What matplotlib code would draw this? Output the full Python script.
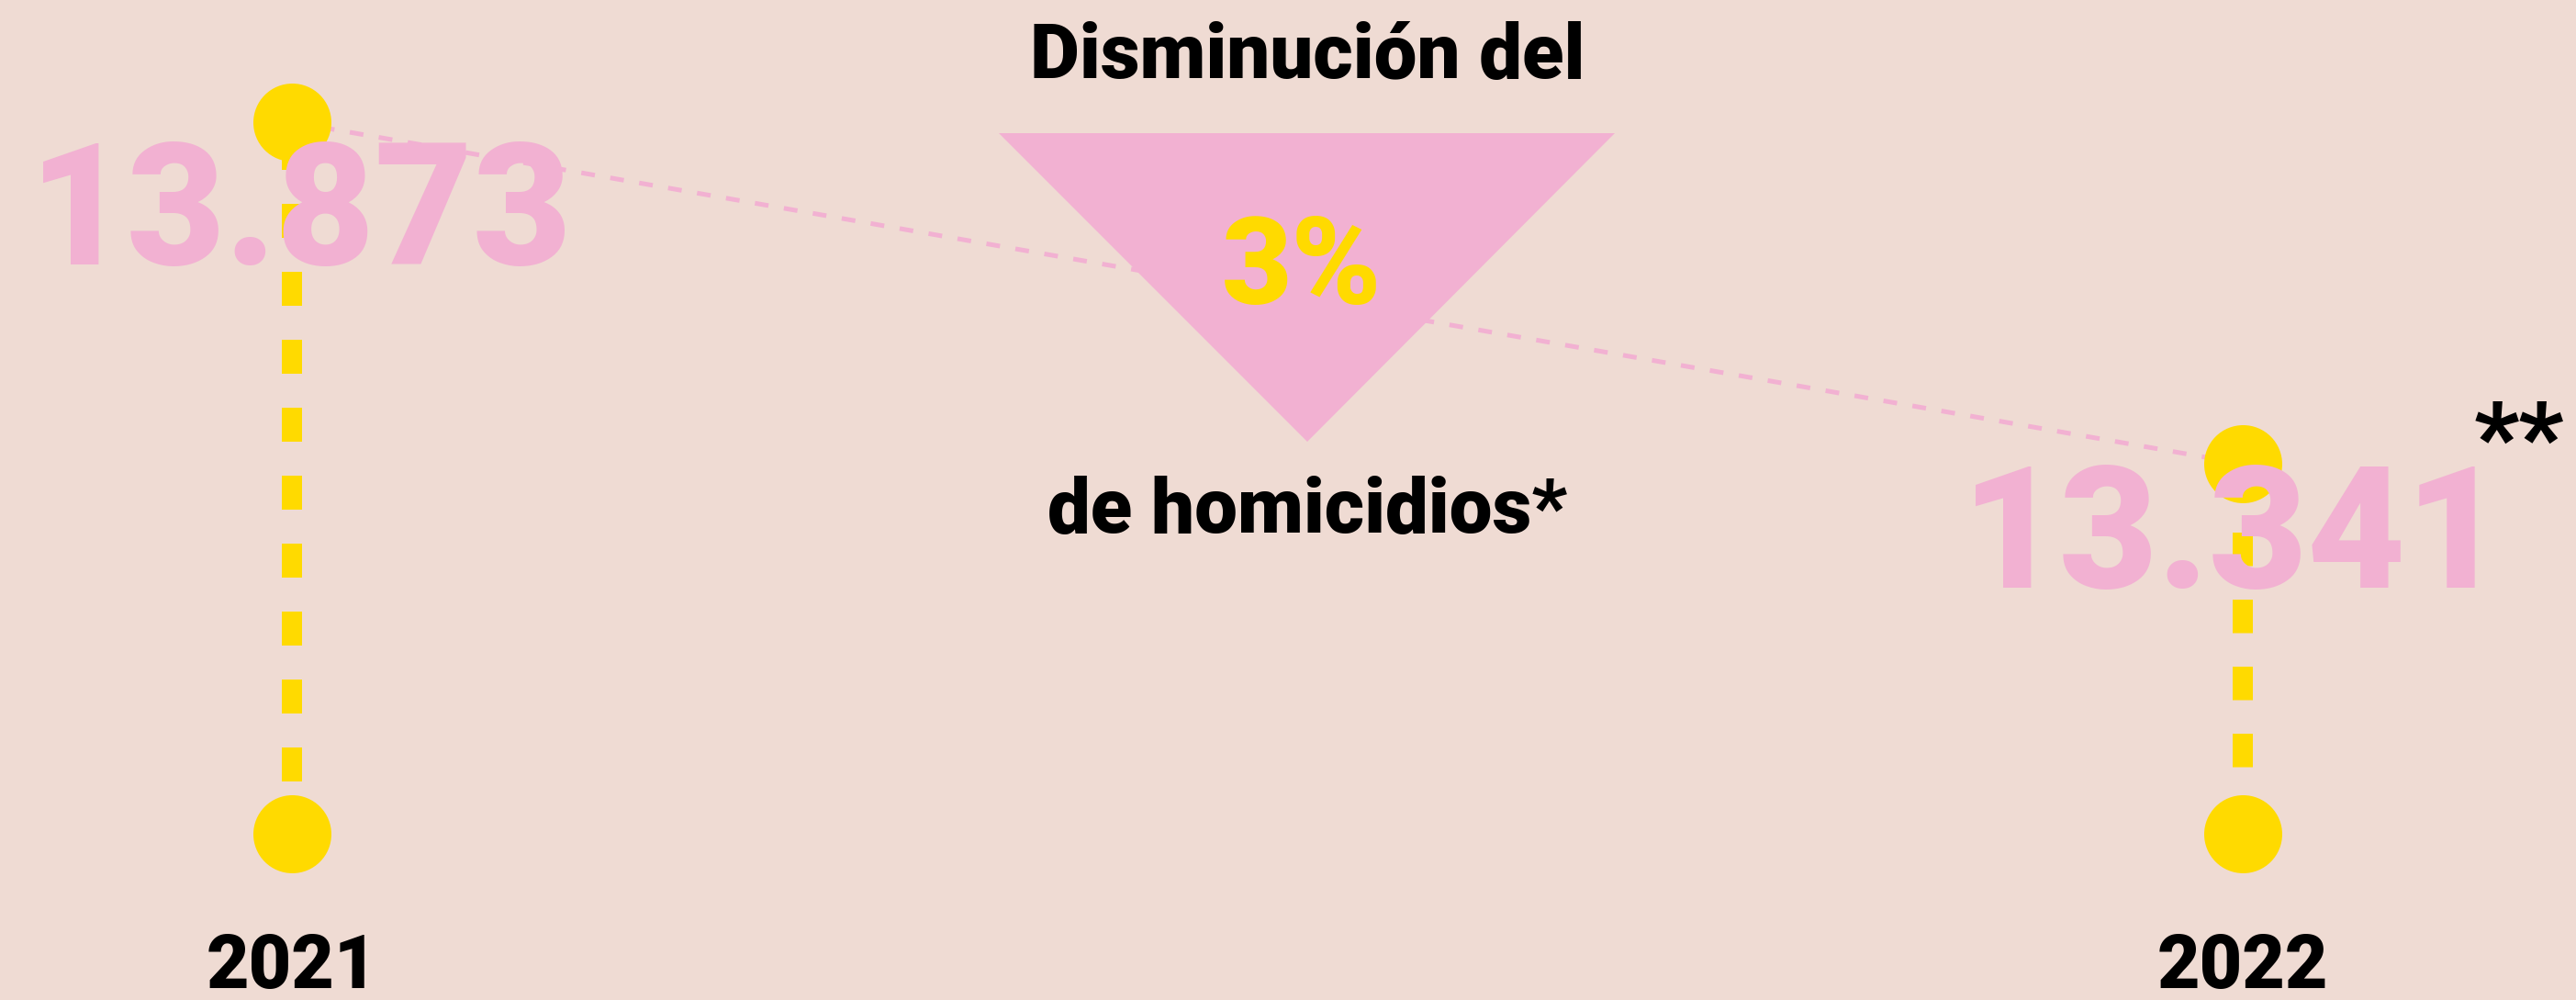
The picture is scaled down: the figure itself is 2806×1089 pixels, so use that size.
import matplotlib
matplotlib.use("Agg")
import matplotlib.pyplot as plt
from matplotlib.patches import Polygon

# ---- data ----
years = [2021, 2022]
homicides = [13873, 13341]
year_labels = ["2021", "2022"]
decrease_pct = 3
title_top = "Disminución del"
title_bottom = "de homicidios*"
note_mark = "**"

BG = "#EFDBD3"
PINK = "#F2B1D2"
YELLOW = "#FFDA00"
FONT = "Roboto"

W, H = 2806, 1089
DPI = 100
PX = 72 / DPI  # points per pixel

plt.rcParams["lines.scale_dashes"] = False
fig = plt.figure(figsize=(W / DPI, H / DPI), dpi=DPI, facecolor=BG)
ax = fig.add_axes([0, 0, 1, 1])
ax.set_facecolor(BG)
ax.axis("off")

# axis limits so that the years / values land where the reference has them
px_per_year = 2443 - 318
ax.set_xlim(2021 - 318 / px_per_year, 2022 + (W - 2443) / px_per_year)
px_per_unit = (505 - 133) / (homicides[0] - homicides[1])
ytop = homicides[0] + 133 / px_per_unit
ybot = homicides[0] - (H - 133) / px_per_unit
ax.set_ylim(ybot, ytop)
base_frac = 1 - 908 / H
baseline_val = ybot + base_frac * (ytop - ybot)

# pink dashed trend line
ax.plot(years, homicides, color=PINK, lw=5 * PX, linestyle=(0, (15 * PX, 17 * PX)),
        dash_capstyle="butt", zorder=1)

# yellow dashed vertical stems
offsets = [59, 71]
periods = [37, 36.5]
for x, v, off, p in zip(years, homicides, offsets, periods):
    ax.plot([x, x], [v, baseline_val], color=YELLOW, lw=22 * PX,
            linestyle=(off * PX, (p * PX, p * PX)), dash_capstyle="butt", zorder=1)

# circles
ax.scatter(years, homicides, s=(85 * PX) ** 2, color=YELLOW, zorder=2, linewidths=0)
ax.scatter(years, [baseline_val] * len(years), s=(85 * PX) ** 2, color=YELLOW,
           zorder=2, linewidths=0)

# triangle
tri = Polygon([(1088 / W, 1 - 145 / H), (1759 / W, 1 - 145 / H), (1424 / W, 1 - 481 / H)],
              closed=True, transform=ax.transAxes, facecolor=PINK, edgecolor="none", zorder=3)
ax.add_patch(tri)

# percent change
ax.text(1418 / W, 1 - 331 / H, f"{decrease_pct}%", transform=ax.transAxes, ha="center",
        va="baseline", color=YELLOW, fontsize=95, fontfamily=FONT, fontweight="black", zorder=5)

ax.text(1424 / W, 1 - 85 / H, title_top, transform=ax.transAxes, ha="center",
        va="baseline", color="black", fontsize=60, fontfamily=FONT, fontweight="black", zorder=5)
ax.text(1424 / W, 1 - 580 / H, title_bottom, transform=ax.transAxes, ha="center",
        va="baseline", color="black", fontsize=60, fontfamily=FONT, fontweight="black", zorder=5)

# big value labels
label_offsets = [(10, -155), (-10, -135)]
for x, v, (dx, dy) in zip(years, homicides, label_offsets):
    txt = f"{v:,}".replace(",", ".")
    ax.annotate(txt, (x, v), xytext=(dx * PX, dy * PX), textcoords="offset points",
                ha="center", va="baseline", color=PINK, fontsize=133,
                fontfamily=FONT, fontweight="black", zorder=4)

# note mark
ax.text(2744 / W, 1 - 512 / H, note_mark, transform=ax.transAxes, ha="center",
        va="baseline", color="black", fontsize=76, fontfamily=FONT, fontweight="black", zorder=5)

# year labels
for x, lab in zip(years, year_labels):
    ax.text(x, 1 - 1076 / H, lab, transform=ax.get_xaxis_transform(), ha="center",
            va="baseline", color="black", fontsize=58, fontfamily=FONT, fontweight="black", zorder=5)

fig.savefig("out.png", dpi=DPI, facecolor=BG)
